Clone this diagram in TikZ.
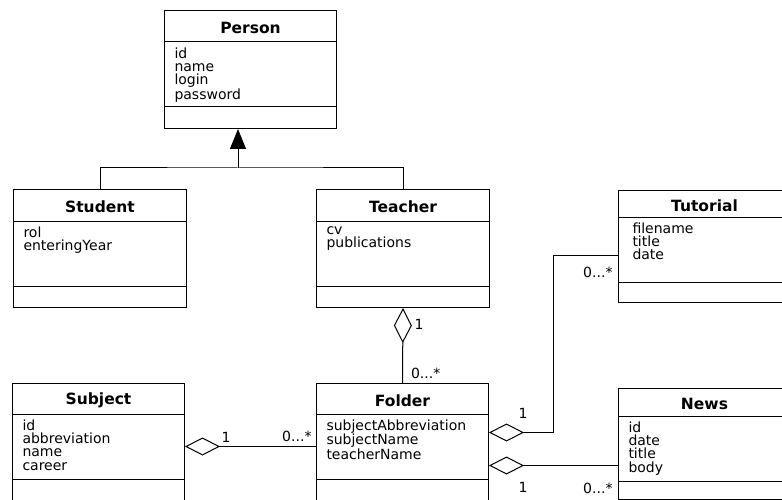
\documentclass[tikz,border=0pt]{standalone}
\usepackage{fontspec}
\setmainfont{DejaVu Sans}
\usetikzlibrary{arrows.meta}

\begin{document}
\begin{tikzpicture}[x=1pt, y=-1pt, line width=1pt,
classnode/.style={rectangle, draw=black, anchor=north west, inner sep=0pt, minimum width=172pt},
namenode/.style={rectangle, anchor=north, inner sep=0pt, yshift=-1.5pt, font=\fontsize{15.5pt}{16pt}\selectfont\bfseries},
attrnode/.style={rectangle, anchor=north west, align=left, inner xsep=10pt, inner ysep=5pt, font=\fontsize{14pt}{13.3pt}\selectfont},
labelnode/.style={inner sep=2pt, font=\fontsize{14pt}{14pt}\selectfont},
aggr/.style={-{Diamond[open, length=35pt, width=18pt]}},
inherit/.style={-{Triangle[length=20pt, width=16pt]}},
]
\useasboundingbox (0,0) rectangle (782,500);
\clip (0,0) rectangle (782,500);

%Classes
\node[classnode, minimum height=118pt] (person) at (164,10) {};
\node[namenode, minimum height=32pt] at (person.north) {Person};
\node[attrnode] at ([yshift=-32pt]person.north west) {id\\name\\login\\password};
\draw ([yshift=-32pt]person.north west) -- ([yshift=-32pt]person.north east);
\draw ([yshift=-97pt]person.north west) -- ([yshift=-97pt]person.north east);

\node[classnode, minimum width=173pt, minimum height=118pt] (student) at (13,189) {};
\node[namenode, minimum height=32pt] at (student.north) {Student};
\node[attrnode] at ([yshift=-32pt]student.north west) {rol\\enteringYear};
\draw ([yshift=-32pt]student.north west) -- ([yshift=-32pt]student.north east);
\draw ([yshift=-97pt]student.north west) -- ([yshift=-97pt]student.north east);

\node[classnode, minimum width=173pt, minimum height=118pt] (teacher) at (316,189) {};
\node[namenode, minimum height=32pt] at (teacher.north) {Teacher};
\node[attrnode] at ([yshift=-32pt]teacher.north west) {cv\\publications};
\draw ([yshift=-32pt]teacher.north west) -- ([yshift=-32pt]teacher.north east);
\draw ([yshift=-97pt]teacher.north west) -- ([yshift=-97pt]teacher.north east);

\node[classnode, minimum height=126pt] (subject) at (12,383) {};
\node[namenode, minimum height=31pt] at (subject.north) {Subject};
\node[attrnode] at ([yshift=-31pt]subject.north west) {id\\abbreviation\\name\\career};
\draw ([yshift=-31pt]subject.north west) -- ([yshift=-31pt]subject.north east);
\draw ([yshift=-96pt]subject.north west) -- ([yshift=-96pt]subject.north east);

\node[classnode, minimum height=126pt] (folder) at (316,383) {};
\node[namenode, minimum height=31pt] at (folder.north) {Folder};
\node[attrnode] at ([yshift=-31pt]folder.north west) {subjectAbbreviation\\subjectName\\teacherName};
\draw ([yshift=-31pt]folder.north west) -- ([yshift=-31pt]folder.north east);
\draw ([yshift=-96pt]folder.north west) -- ([yshift=-96pt]folder.north east);

\node[classnode, minimum height=112pt] (tutorial) at (618,190) {};
\node[namenode, minimum height=27pt] at (tutorial.north) {Tutorial};
\node[attrnode, xshift=4pt] at ([yshift=-27pt]tutorial.north west) {filename\\title\\date};
\draw ([yshift=-27pt]tutorial.north west) -- ([yshift=-27pt]tutorial.north east);
\draw ([yshift=-92pt]tutorial.north west) -- ([yshift=-92pt]tutorial.north east);

\node[classnode, minimum height=111pt] (news) at (618,388) {};
\node[namenode, minimum height=28pt] at (news.north) {News};
\node[attrnode] at ([yshift=-28pt]news.north west) {id\\date\\title\\body};
\draw ([yshift=-28pt]news.north west) -- ([yshift=-28pt]news.north east);
\draw ([yshift=-93pt]news.north west) -- ([yshift=-93pt]news.north east);

%Lines
\coordinate (gen) at (238,168);
\draw[inherit] (gen) -- (gen |- person.south);
\draw (student.north) |- (gen) -| (teacher.north);

\draw[aggr] (folder.north) -- (teacher.south)
  node[labelnode, pos=0, anchor=south west, xshift=6pt, yshift=2pt] {0...*}
  node[labelnode, pos=1, anchor=north west, xshift=9pt, yshift=-9pt] {1};

\draw[aggr] (folder.west) -- (subject.east)
  node[labelnode, pos=0, anchor=south east, xshift=-2pt, yshift=2pt] {0...*}
  node[labelnode, pos=1, anchor=south west, xshift=34pt, yshift=2pt] {1};

\coordinate (ft) at ([yshift=14pt]folder.east);
\draw[aggr] ([yshift=-9pt]tutorial.west) -- ++(-65,0)
  node[labelnode, pos=0, anchor=north east, xshift=-3pt, yshift=-9pt] {0...*}
  |- (ft)
  node[labelnode, pos=1, anchor=south west, xshift=27pt, yshift=12pt] {1};

\coordinate (fn) at ([yshift=-19pt]folder.east);
\draw[aggr] (fn -| news.west) -- (fn)
  node[labelnode, pos=0, anchor=north east, xshift=-3pt, yshift=-15pt] {0...*}
  node[labelnode, pos=1, anchor=north west, xshift=27pt, yshift=-14pt] {1};

\end{tikzpicture}
\end{document}
